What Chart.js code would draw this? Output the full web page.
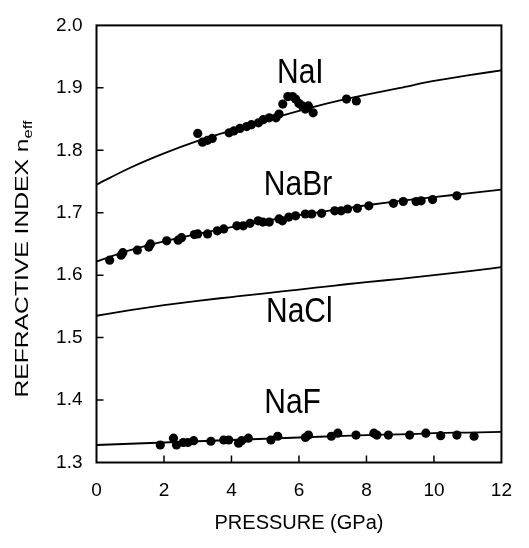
<!DOCTYPE html>
<html>
<head>
<meta charset="utf-8">
<script src="https://cdn.jsdelivr.net/npm/chart.js@4/dist/chart.umd.min.js"></script>
<style>
  html, body { margin: 0; padding: 0; background: #fff; }
  #wrap { width: 529px; height: 548px; position: relative; }
</style>
</head>
<body>
<div id="wrap"><canvas id="nChart"></canvas></div>
<script>
// fitted curves at whole GPa
const curveP = [0, 1, 2, 3, 4, 5, 6, 7, 8, 9, 10, 11, 12];
const curveNaI  = [1.745, 1.772, 1.795, 1.815, 1.832, 1.848, 1.863, 1.877, 1.889, 1.900, 1.911, 1.920, 1.928];
const curveNaBr = [1.622, 1.640, 1.654, 1.666, 1.677, 1.687, 1.696, 1.704, 1.712, 1.719, 1.725, 1.731, 1.737];
const curveNaCl = [1.535, 1.544, 1.552, 1.559, 1.565, 1.571, 1.577, 1.583, 1.589, 1.594, 1.600, 1.606, 1.613];
const curveNaF  = [1.328, 1.330, 1.332, 1.334, 1.336, 1.338, 1.340, 1.342, 1.344, 1.345, 1.347, 1.348, 1.349];

// measured points
const pNaI = [3.0, 3.14, 3.29, 3.43, 3.93, 4.07, 4.25, 4.45, 4.59, 4.80, 4.94, 5.12, 5.32, 5.41, 5.52, 5.67, 5.81, 5.90, 6.0, 6.1, 6.19, 6.28, 6.42, 7.41, 7.70];
const nNaI = [1.827, 1.813, 1.816, 1.819, 1.828, 1.831, 1.835, 1.838, 1.841, 1.844, 1.849, 1.852, 1.852, 1.858, 1.874, 1.886, 1.886, 1.882, 1.875, 1.871, 1.866, 1.871, 1.860, 1.882, 1.879];

const pNaBr = [0.39, 0.73, 0.78, 1.21, 1.55, 1.60, 2.08, 2.42, 2.52, 2.90, 3.0, 3.29, 3.58, 3.77, 4.16, 4.35, 4.55, 4.79, 4.93, 5.12, 5.41, 5.51, 5.70, 5.90, 6.19, 6.38, 6.67, 7.06, 7.25, 7.44, 7.73, 8.07, 8.80, 9.09, 9.47, 9.62, 9.96, 10.68];
const nNaBr = [1.624, 1.632, 1.636, 1.640, 1.645, 1.650, 1.655, 1.656, 1.660, 1.665, 1.666, 1.666, 1.671, 1.674, 1.679, 1.679, 1.683, 1.687, 1.685, 1.685, 1.690, 1.687, 1.693, 1.695, 1.698, 1.698, 1.699, 1.703, 1.703, 1.706, 1.707, 1.711, 1.715, 1.718, 1.718, 1.719, 1.721, 1.727];

const pNaF = [1.89, 2.28, 2.37, 2.57, 2.71, 2.88, 3.39, 3.77, 3.92, 4.21, 4.30, 4.50, 5.17, 5.37, 6.19, 6.28, 6.96, 7.15, 7.69, 8.22, 8.31, 8.65, 9.28, 9.76, 10.20, 10.68, 11.19];
const nNaF = [1.328, 1.339, 1.328, 1.332, 1.332, 1.335, 1.334, 1.336, 1.336, 1.331, 1.335, 1.339, 1.336, 1.342, 1.340, 1.344, 1.342, 1.347, 1.344, 1.347, 1.344, 1.344, 1.344, 1.347, 1.343, 1.344, 1.342];

// curve labels: text, pressure, index (baseline centre)
const labelText = ['NaI', 'NaBr', 'NaCl', 'NaF'];
const labelP = [6.04, 5.97, 6.01, 5.81];
const labelN = [1.907, 1.729, 1.525, 1.379];

const xTicks = [0, 2, 4, 6, 8, 10, 12];

function pts(xs, ys) {
  return xs.map((v, i) => ({ x: v, y: ys[i] }));
}

function curve(ys) {
  return {
    data: pts(curveP, ys),
    showLine: true,
    borderColor: '#000',
    borderWidth: 1.8,
    pointRadius: 0,
    cubicInterpolationMode: 'monotone',
    fill: false
  };
}

function dots(xs, ys) {
  return {
    data: pts(xs, ys),
    showLine: false,
    pointRadius: 4.6,
    pointBackgroundColor: '#000',
    pointBorderColor: '#000',
    pointBorderWidth: 0
  };
}

// frame, inward ticks, curve names and the y title
const decorations = {
  id: 'decorations',
  afterDatasetsDraw(chart) {
    const ctx = chart.ctx;
    const a = chart.chartArea;
    const x = chart.scales.x, y = chart.scales.y;
    ctx.save();
    ctx.strokeStyle = '#000';
    ctx.lineWidth = 2;
    ctx.strokeRect(a.left, a.top, a.right - a.left, a.bottom - a.top);

    ctx.lineWidth = 1.5;
    ctx.beginPath();
    xTicks.forEach(v => {
      if (v <= 0 || v >= 12) return;
      const px = x.getPixelForValue(v);
      ctx.moveTo(px, a.bottom);
      ctx.lineTo(px, a.bottom - 7);
    });
    y.ticks.forEach(t => {
      if (t.value <= 1.3 || t.value >= 2.0) return;
      const py = y.getPixelForValue(t.value);
      ctx.moveTo(a.left, py);
      ctx.lineTo(a.left + 7, py);
    });
    ctx.stroke();

    ctx.fillStyle = '#000';
    ctx.font = '30px "Liberation Sans", Arial, sans-serif';
    ctx.textAlign = 'center';
    ctx.textBaseline = 'alphabetic';
    labelText.forEach((t, i) => {
      ctx.save();
      ctx.translate(x.getPixelForValue(labelP[i]), y.getPixelForValue(labelN[i]));
      ctx.scale(1, 1.18);
      ctx.fillText(t, 0, 0);
      ctx.restore();
    });

    // rotated axis title with subscript
    const main = 'REFRACTIVE INDEX n';
    const sub = 'eff';
    ctx.font = '18px "Liberation Sans", Arial, sans-serif';
    const wMain = ctx.measureText(main).width;
    ctx.font = '12px "Liberation Sans", Arial, sans-serif';
    const wSub = ctx.measureText(sub).width;
    const total = wMain + wSub;
    ctx.save();
    ctx.translate(28, 259);
    ctx.rotate(-Math.PI / 2);
    ctx.scale(277 / total, 1);
    ctx.textAlign = 'left';
    ctx.font = '18px "Liberation Sans", Arial, sans-serif';
    ctx.fillText(main, -total / 2, 0);
    ctx.font = '12px "Liberation Sans", Arial, sans-serif';
    ctx.fillText(sub, -total / 2 + wMain, 4);
    ctx.restore();
    ctx.restore();
  }
};

new Chart(document.getElementById('nChart').getContext('2d'), {
  type: 'scatter',
  data: {
    datasets: [
      curve(curveNaI), curve(curveNaBr), curve(curveNaCl), curve(curveNaF),
      dots(pNaI, nNaI), dots(pNaBr, nNaBr), dots(pNaF, nNaF)
    ]
  },
  options: {
    responsive: true,
    maintainAspectRatio: false,
    animation: false,
    layout: { padding: { top: 19, right: 19, left: 0, bottom: 0 } },
    plugins: { legend: { display: false }, tooltip: { enabled: false } },
    scales: {
      x: {
        type: 'linear',
        min: 0,
        max: 12,
        afterBuildTicks: s => { s.ticks = xTicks.map(v => ({ value: v })); },
        afterFit: s => { s.height = 85.5; },
        grid: { display: false, drawTicks: false },
        border: { display: false },
        ticks: {
          padding: 17,
          color: '#000',
          font: { family: '"Liberation Sans", Arial, sans-serif', size: 19 }
        },
        title: {
          display: true,
          text: 'PRESSURE (GPa)',
          color: '#000',
          font: { family: '"Liberation Sans", Arial, sans-serif', size: 20 },
          padding: { top: 0, bottom: 13 }
        }
      },
      y: {
        min: 1.3,
        max: 2.0,
        afterFit: s => { s.width = 96.5; },
        grid: { display: false, drawTicks: false },
        border: { display: false },
        ticks: {
          stepSize: 0.1,
          padding: 14,
          color: '#000',
          font: { family: '"Liberation Sans", Arial, sans-serif', size: 19 },
          callback: v => Number(v).toFixed(1)
        }
      }
    }
  },
  plugins: [decorations]
});
</script>
</body>
</html>
